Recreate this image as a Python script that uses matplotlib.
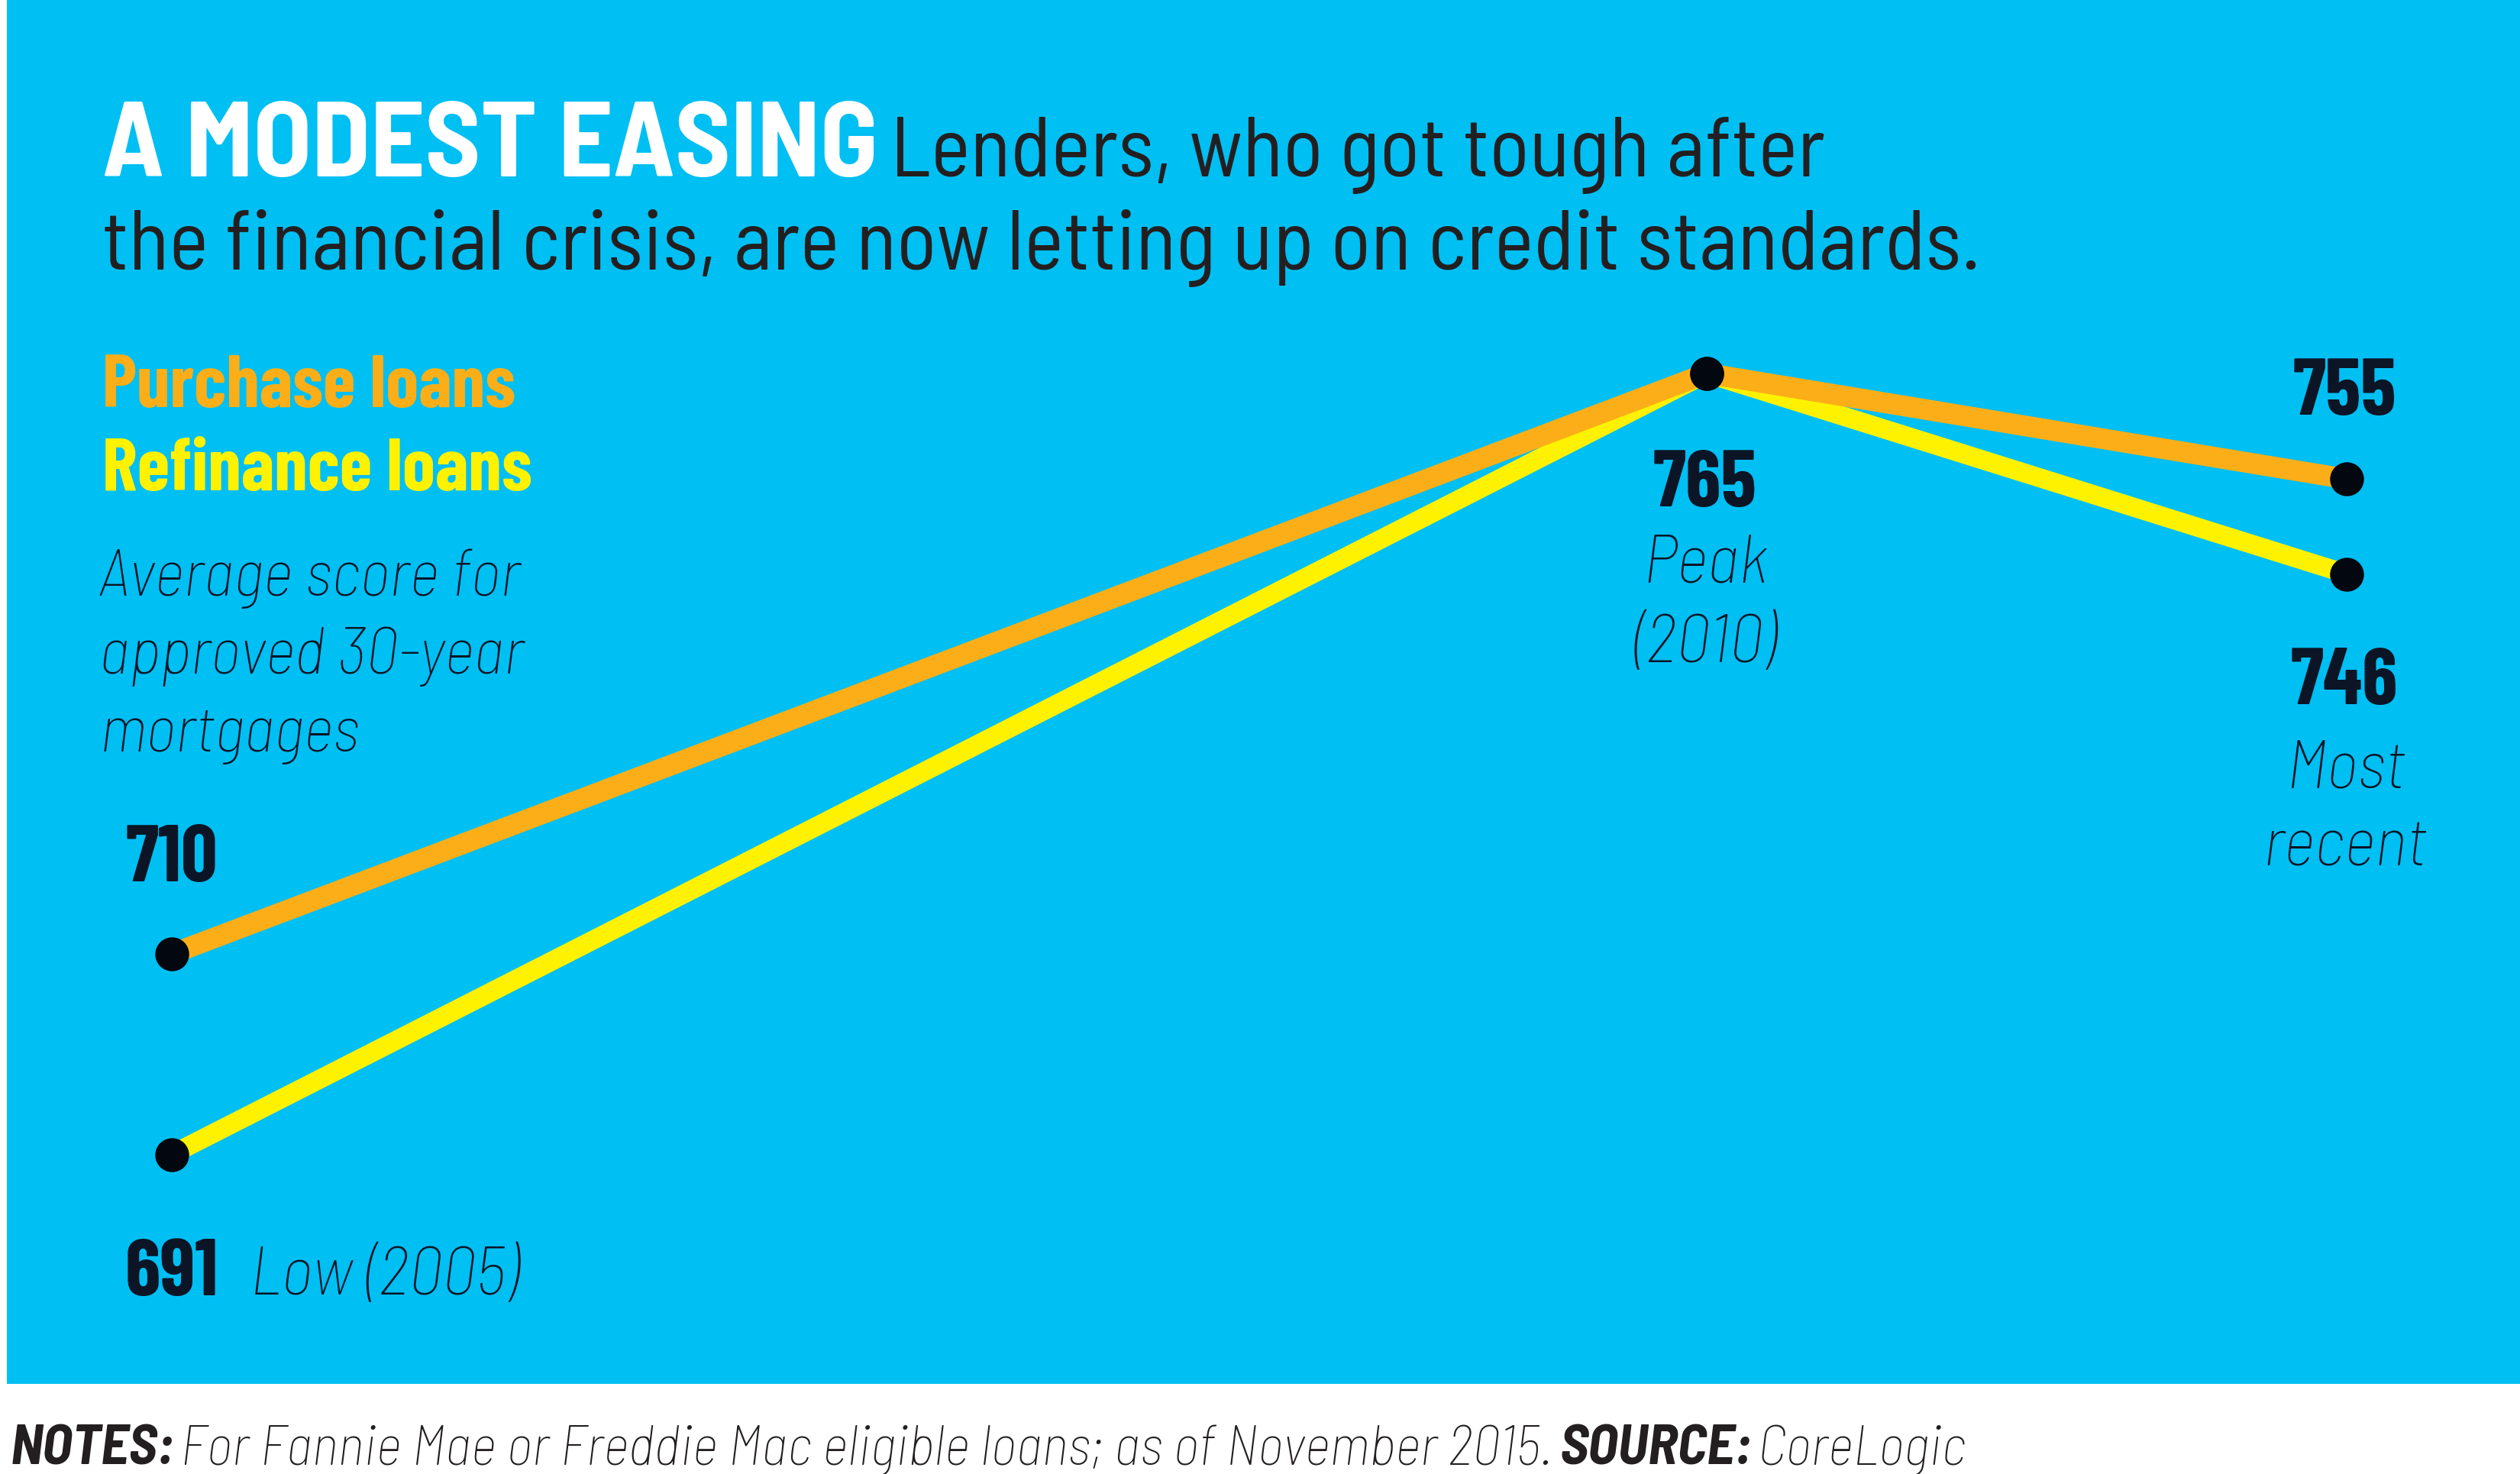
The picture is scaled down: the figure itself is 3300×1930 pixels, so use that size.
import matplotlib
matplotlib.use("Agg")
import matplotlib.pyplot as plt
from matplotlib.patches import Rectangle

# data: average credit score for approved 30-year mortgages
periods = ["Low (2005)", "Peak (2010)", "Most recent"]
purchase = [710, 765, 755]
refinance = [691, 765, 746]

# layout
W, H = 3300, 1931
slot_x = [0.0, 1.0, 1.417]

BLUE = "#00bff3"
ORANGE = "#fbae17"
YELLOW = "#fff200"
NAVY = "#0b1526"
DARK = "#231f20"

COND = ["Barlow Condensed", "IBM Plex Sans Condensed", "DejaVu Sans"]
SEMI = ["Barlow Semi Condensed", "Barlow Condensed", "DejaVu Sans"]


def px(x, y):
    # figure pixel (from top-left) -> figure fraction
    return x / W, 1 - y / H


fig = plt.figure(figsize=(W / 100, H / 100), dpi=100, facecolor="white")
fig.patches.append(Rectangle(px(9, 1813), (W - 9) / W, 1813 / H,
                             transform=fig.transFigure, facecolor=BLUE,
                             edgecolor="none", zorder=-5))

ax = fig.add_axes([0, 0, 1, 1])
ax.set_facecolor("none")
ax.set_xlim(-0.1119, 1.5299)
ax.set_ylim(660.73, 800.45)
ax.axis("off")

ax.plot(slot_x, refinance, color=YELLOW, lw=18, solid_joinstyle="round", zorder=2)
ax.plot(slot_x, purchase, color=ORANGE, lw=19.5, solid_joinstyle="round", zorder=3)
ax.scatter(slot_x, purchase, s=32 ** 2, color="#03070f", zorder=4, lw=0)
ax.scatter(slot_x, refinance, s=32 ** 2, color="#03070f", zorder=4, lw=0)

num = dict(color=NAVY, family=COND, weight="bold", fontsize=76,
           textcoords="offset pixels", va="baseline")
ax.annotate(str(purchase[0]), (slot_x[0], purchase[0]), xytext=(0, 96), ha="center", **num)
ax.annotate(str(refinance[0]), (slot_x[0], refinance[0]), xytext=(-61, -183), ha="left", **num)
ax.annotate(str(purchase[1]), (slot_x[1], purchase[1]), xytext=(-2, -173), ha="center", **num)
ax.annotate(str(purchase[2]), (slot_x[2], purchase[2]), xytext=(-3, 85), ha="center", **num)
ax.annotate(str(refinance[2]), (slot_x[2], refinance[2]), xytext=(-3, -169), ha="center", **num)

ital = dict(color=NAVY, family=SEMI, weight="light", style="italic", fontsize=65,
            va="baseline")
fig.text(*px(327, 1695), periods[0], ha="left", **ital)
fig.text(*px(2233, 763), "Peak", ha="center", **ital)
fig.text(*px(2233, 867), "(2010)", ha="center", **ital)
fig.text(*px(3071, 1032), "Most", ha="center", **ital)
fig.text(*px(3071, 1134), "recent", ha="center", **ital)

# heading
title = fig.text(*px(134, 231), "A MODEST EASING", color="white", family=SEMI,
                 weight="bold", fontsize=101, va="baseline")
fig.canvas.draw()
tb = title.get_window_extent()
fig.text(tb.x1 / W + 0.005, 1 - 231 / H, "Lenders, who got tough after", color=DARK,
         family=SEMI, weight="normal", fontsize=79, va="baseline")
fig.text(*px(134, 353), "the financial crisis, are now letting up on credit standards.",
         color=DARK, family=SEMI, weight="normal", fontsize=79, va="baseline")

# legend
fig.text(*px(134, 533), "Purchase loans", color=ORANGE, family=COND,
         weight="bold", fontsize=70, va="baseline")
fig.text(*px(134, 642), "Refinance loans", color=YELLOW, family=COND,
         weight="bold", fontsize=70, va="baseline")

desc = dict(ital, fontsize=62)
for i, line in enumerate(["Average score for", "approved 30-year", "mortgages"]):
    fig.text(*px(130, 780 + i * 102), line, ha="left", **desc)

# footer
foot = dict(color=DARK, family=SEMI, style="italic", fontsize=53, va="baseline")
t = fig.text(*px(14, 1918), "NOTES:", weight="bold", **foot)
fig.canvas.draw()
bb = t.get_window_extent()
t2 = fig.text(bb.x1 / W + 0.002, 1 - 1918 / H,
              "For Fannie Mae or Freddie Mac eligible loans; as of November 2015.",
              weight="light", **foot)
bb2 = t2.get_window_extent()
t3 = fig.text(bb2.x1 / W + 0.003, 1 - 1918 / H, "SOURCE:", weight="bold", **foot)
bb3 = t3.get_window_extent()
fig.text(bb3.x1 / W + 0.002, 1 - 1918 / H, "CoreLogic", weight="light", **foot)

fig.savefig("out.png", dpi=100, facecolor="white")
